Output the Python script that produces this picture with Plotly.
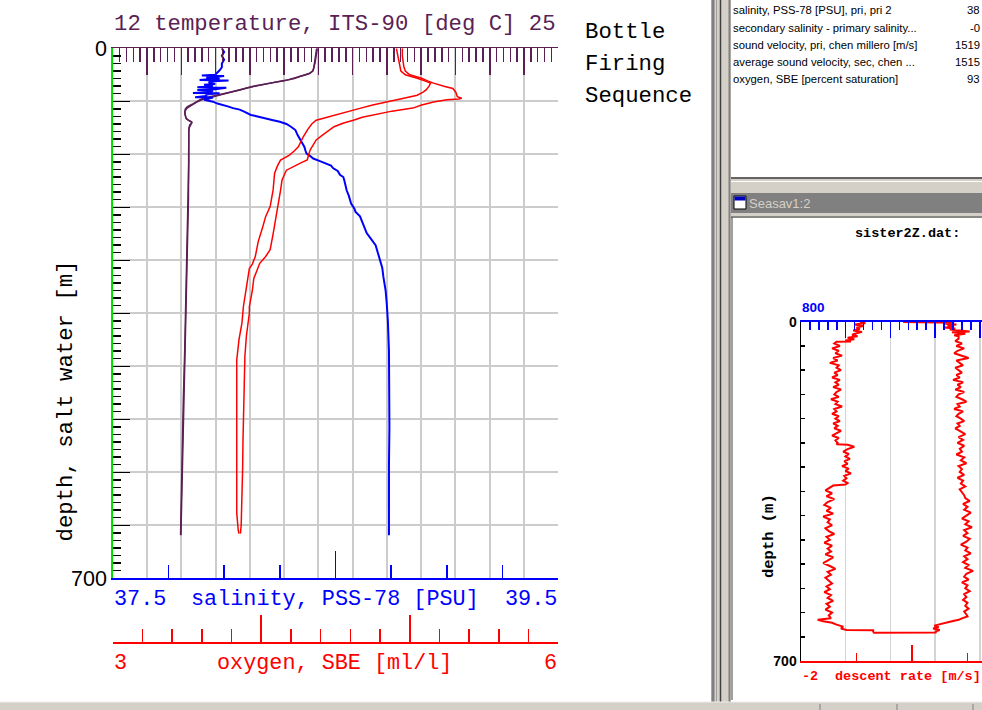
import plotly.graph_objects as go

W, H = 982, 710


def fx(p):
    return p / W


def fy(p):
    return 1 - p / H


PURPLE = "#5b1f55"
BLUE = "#0000ff"
RED = "#ff0000"
GREEN = "#00e000"
GRID = "#cccccc"
MONO = "Liberation Mono"
SANS = "Liberation Sans"

# ---------------- main profile data (depth in m) ----------------
depth_temp_pri = [0, 8, 15, 25, 29, 33, 36, 38, 40, 42, 45, 48.6, 52, 55, 57, 59.5, 62, 64, 66, 68, 70, 73, 77, 80,
                  84, 88, 92.5, 95, 97, 99, 101, 104, 108, 150, 200, 300, 400, 465, 550, 600, 643]
temp_pri = [17.95, 17.93, 17.9, 17.87, 17.85, 17.76, 17.55, 17.4, 17.25, 17.08, 16.7, 16.3, 15.95, 15.71, 15.5, 15.23,
            15.0, 14.84, 14.65, 14.55, 14.45, 14.35, 14.18, 14.12, 14.1, 14.11, 14.14, 14.2, 14.3, 14.3, 14.25, 14.23,
            14.22, 14.22, 14.2, 14.16, 14.1, 14.06, 14.02, 14.0, 13.98]

depth_temp_sec = [0, 10, 20, 30, 34, 37, 40, 43, 46, 50, 53, 56, 59, 62, 65, 68, 71, 75, 79, 83, 88, 93, 96, 98, 101,
                  105, 110, 200, 300, 400, 500, 600, 643]
temp_sec = [17.97, 17.94, 17.9, 17.84, 17.7, 17.48, 17.3, 17.0, 16.6, 16.1, 15.85, 15.6, 15.3, 15.07, 14.8, 14.6,
            14.45, 14.3, 14.17, 14.11, 14.11, 14.15, 14.24, 14.31, 14.28, 14.23, 14.22, 14.21, 14.16, 14.11, 14.04,
            14.0, 13.99]

depth_sal = [0, 5, 10, 15, 20, 25, 29, 32, 35, 36, 36.5, 37.5, 39, 40, 41, 42, 42.5, 43.5, 45, 47, 48, 50, 51.5, 52,
             54, 55, 56, 58, 59, 59.5, 61, 63, 64.7, 65, 68, 70.5, 73, 75, 77, 79, 81, 83.7, 86, 88, 90, 92.5, 95, 97,
             100, 103.6, 108, 114.6, 120, 125.5, 130, 135, 139, 142, 145.6, 149, 152, 155, 158.5, 162, 167, 170, 175,
             183, 187.5, 195, 205, 212, 216, 222, 229, 236, 244, 252, 260, 270, 280, 290, 302, 320, 337, 360, 400,
             450, 500, 550, 600, 643]
sal = [37.99, 38.0, 37.99, 38.0, 37.99, 37.99, 37.98, 37.97, 37.96, 37.90, 38.0, 37.97, 37.92, 37.98, 37.94, 37.89,
       38.02, 37.95, 37.93, 37.96, 37.91, 37.95, 37.88, 38.01, 37.96, 37.88, 37.95, 37.93, 37.86, 37.98, 37.92, 37.92,
       37.87, 37.95, 37.91, 37.95, 37.97, 38.0, 38.02, 38.04, 38.07, 38.09, 38.11, 38.12, 38.15, 38.18, 38.22, 38.25,
       38.28, 38.30, 38.32, 38.33, 38.34, 38.35, 38.36, 38.365, 38.37, 38.385, 38.40, 38.43, 38.46, 38.48, 38.49,
       38.51, 38.52, 38.535, 38.54, 38.545, 38.55, 38.56, 38.57, 38.585, 38.59, 38.61, 38.62, 38.63, 38.64, 38.66,
       38.68, 38.69, 38.70, 38.71, 38.715, 38.725, 38.73, 38.735, 38.74, 38.742, 38.742, 38.74, 38.74, 38.74]

depth_oxy_a = [0, 10, 24, 30, 35, 37, 39.6, 43, 46, 50, 53, 58, 64, 66, 67, 68, 71, 75, 79, 83, 88, 91, 95, 99, 103.6,
               110, 115, 121, 127, 134, 140, 147.6, 151, 154, 158, 161, 165, 174, 187.5, 200, 222, 245, 266, 275, 284,
               295, 304, 320, 341, 350, 380, 407, 440, 482, 520, 553, 590, 614, 630, 641]
oxy_a = [4.95, 4.95, 4.96, 4.97, 5.0, 5.04, 5.08, 5.12, 5.16, 5.23, 5.29, 5.31, 5.32, 5.35, 5.33, 5.25, 5.16, 5.08,
         5.02, 4.88, 4.75, 4.68, 4.62, 4.55, 4.49, 4.44, 4.41, 4.37, 4.35, 4.33, 4.32, 4.31, 4.27, 4.24, 4.20, 4.17,
         4.16, 4.14, 4.13, 4.12, 4.10, 4.08, 4.06, 4.03, 3.99, 3.97, 3.95, 3.94, 3.92, 3.92, 3.90, 3.89, 3.885, 3.88,
         3.877, 3.875, 3.872, 3.87, 3.865, 3.86]

depth_oxy_b = [0, 10, 24, 30, 35, 37, 39.6, 43, 46, 50, 55, 58, 62, 66, 70.5, 75, 79, 83.7, 88, 91, 95, 100, 108, 118,
               130, 136, 141, 147.6, 155, 165, 187, 209, 222, 236, 255, 275, 285, 291, 315, 341, 363, 385, 412, 460,
               526, 570, 614, 636, 641]
oxy_b = [4.91, 4.92, 4.93, 4.94, 4.97, 5.01, 5.05, 5.10, 5.14, 5.13, 5.11, 5.09, 5.05, 4.96, 4.85, 4.75, 4.67, 4.58,
         4.50, 4.43, 4.37, 4.34, 4.31, 4.28, 4.25, 4.22, 4.19, 4.13, 4.11, 4.09, 4.08, 4.06, 4.03, 4.01, 3.98, 3.96,
         3.94, 3.92, 3.90, 3.88, 3.87, 3.85, 3.835, 3.835, 3.84, 3.837, 3.835, 3.845, 3.85]

# ---------------- small window: descent rate ----------------
sm_depth_a = [0, 3, 6, 9, 12, 15, 18, 21, 24, 27, 30, 33, 36, 39, 41,
              41.5,
              45, 50, 55, 60, 65, 70, 75, 80, 85, 90, 95, 100, 105, 110, 115, 120, 125, 130, 135, 140, 145,
              150, 155, 160, 165, 170, 175, 180, 185, 190, 195, 200, 205, 210, 215, 220, 225, 230, 235, 240, 245, 250,
              253, 254,
              258, 263, 268, 273, 278, 283, 288, 293, 298, 303, 308, 313, 318, 323, 328, 333,
              336, 338,
              342, 348, 354, 360, 366, 372, 378, 384, 390, 396, 402, 408, 414, 420, 426, 432, 438, 444, 450, 456,
              462, 468, 474, 480, 486, 492, 498, 504, 510, 516, 522, 528, 534, 540, 546, 552, 558, 564, 570, 576,
              582, 588, 594, 600, 606, 612,
              615, 618, 621, 625, 629, 633, 636, 636.5, 641]
sm_rate_a = [-1.47, -1.42, -1.52, -1.44, -1.50, -1.47, -1.53, -1.45, -1.50, -1.54, -1.49, -1.58, -1.52, -1.60, -1.55,
             -1.68,
             -1.70, -1.65, -1.72, -1.66, -1.69, -1.63, -1.71,
             -1.67, -1.74, -1.66, -1.68, -1.64, -1.70, -1.67,
             -1.72, -1.65, -1.69, -1.66, -1.71, -1.64, -1.68,
             -1.70, -1.66, -1.73, -1.67, -1.69, -1.63, -1.70,
             -1.68, -1.72, -1.66, -1.69, -1.65, -1.71, -1.67,
             -1.70, -1.64, -1.68, -1.72, -1.66, -1.69, -1.67,
             -1.68, -1.58,
             -1.52, -1.58, -1.62, -1.57, -1.60, -1.56, -1.61, -1.58, -1.63, -1.57, -1.60, -1.55, -1.61, -1.59, -1.62,
             -1.58,
             -1.60, -1.71,
             -1.74, -1.78, -1.72, -1.77, -1.70, -1.76, -1.79,
             -1.73, -1.77, -1.71, -1.80, -1.74, -1.76, -1.72,
             -1.78, -1.75, -1.70, -1.77, -1.74, -1.79, -1.72,
             -1.76, -1.73, -1.78, -1.71, -1.75, -1.80, -1.74,
             -1.69, -1.76, -1.73, -1.78, -1.75, -1.72, -1.77,
             -1.74, -1.79, -1.73, -1.76,
             -1.71, -1.77, -1.74, -1.78, -1.72, -1.75, -1.73,
             -1.85, -1.80, -1.72, -1.68, -1.62, -1.64, -1.59, -1.35, -1.35]

sm_depth_b = [0.5, 0.5,
              2, 4, 6, 8, 10, 12, 14, 16, 18,
              20, 22, 25, 28, 30,
              35, 40, 45, 50, 55, 60, 65, 70, 75, 80, 85, 90, 95, 100, 105, 110, 115, 120, 125, 130, 135, 140, 145,
              150, 155, 160, 165, 170, 175, 180, 185, 190, 195, 200, 205, 210, 215, 220,
              226, 232, 238, 244, 250, 256, 262, 268, 274, 280, 286, 292, 298, 304, 310, 316, 322, 328, 334, 340, 346,
              352, 358,
              364, 370, 376, 382, 388, 394, 400, 406, 412, 418, 424, 430, 436, 442, 448, 454, 460, 466, 472, 478,
              484, 490, 496, 502, 508, 514, 520, 526, 532, 538, 544, 550, 556, 562, 568, 574, 580, 586, 592, 598, 604,
              608, 612, 615, 618, 621, 624, 627, 630, 633, 636, 639, 641, 641.5]
sm_rate_b = [-1.08, -0.65,
             -0.62, -0.70, -0.60, -0.68, -0.63, -0.71, -0.61, -0.66, -0.59,
             -0.48, -0.64, -0.52, -0.62, -0.58,
             -0.58, -0.61, -0.55, -0.60, -0.53, -0.59, -0.62,
             -0.56, -0.49, -0.60, -0.57, -0.54, -0.61, -0.58,
             -0.55, -0.60, -0.57, -0.63, -0.54, -0.59, -0.56,
             -0.61, -0.53, -0.58, -0.60, -0.55, -0.51, -0.59,
             -0.57, -0.62, -0.54, -0.58, -0.60, -0.56, -0.53,
             -0.59, -0.57, -0.61,
             -0.56, -0.52, -0.58, -0.54, -0.59, -0.53, -0.57,
             -0.55, -0.60, -0.53, -0.56, -0.51, -0.58, -0.55,
             -0.57, -0.53, -0.59, -0.54, -0.56, -0.52, -0.57,
             -0.55, -0.53,
             -0.52, -0.48, -0.54, -0.50, -0.53, -0.47, -0.51,
             -0.55, -0.49, -0.52, -0.46, -0.53, -0.50, -0.54,
             -0.48, -0.51, -0.56, -0.50, -0.52, -0.47, -0.53,
             -0.50, -0.54, -0.49, -0.52, -0.45, -0.51, -0.53,
             -0.49, -0.55, -0.50, -0.52, -0.48, -0.53, -0.51,
             -0.54, -0.50, -0.52, -0.49, -0.53, -0.51,
             -0.50, -0.55, -0.58, -0.64, -0.70, -0.74, -0.80, -0.76, -0.81, -0.75, -0.79, -0.78, -1.35]

# ---------------- side panel list ----------------
panel_labels = ["salinity, PSS-78 [PSU], pri, pri 2", "secondary salinity - primary salinity...",
                "sound velocity, pri, chen millero [m/s]", "average sound velocity, sec, chen ...",
                "oxygen, SBE [percent saturation]"]
panel_values = ["38", "-0", "1519", "1515", "93"]
panel_rows_y = [10, 28, 45, 62, 79]

fig = go.Figure()
fig.add_trace(go.Scatter(x=temp_sec, y=depth_temp_sec, xaxis="x", yaxis="y", mode="lines",
                         line=dict(color=PURPLE, width=1.5)))
fig.add_trace(go.Scatter(x=temp_pri, y=depth_temp_pri, xaxis="x", yaxis="y", mode="lines",
                         line=dict(color=PURPLE, width=1.5)))
fig.add_trace(go.Scatter(x=oxy_a, y=depth_oxy_a, xaxis="x3", yaxis="y", mode="lines",
                         line=dict(color=RED, width=1.5)))
fig.add_trace(go.Scatter(x=oxy_b, y=depth_oxy_b, xaxis="x3", yaxis="y", mode="lines",
                         line=dict(color=RED, width=1.5)))
fig.add_trace(go.Scatter(x=sal, y=depth_sal, xaxis="x2", yaxis="y", mode="lines",
                         line=dict(color=BLUE, width=2)))
fig.add_trace(go.Scatter(x=sm_rate_a, y=sm_depth_a, xaxis="x5", yaxis="y3", mode="lines",
                         line=dict(color=RED, width=2)))
fig.add_trace(go.Scatter(x=sm_rate_b, y=sm_depth_b, xaxis="x5", yaxis="y3", mode="lines",
                         line=dict(color=RED, width=2)))

main_x = [fx(112.7), fx(558.3)]
main_y = [fy(578.3), fy(48.3)]
small_x = [fx(801), 1.0]
small_y = [fy(661), fy(321.7)]

common = dict(zeroline=False, fixedrange=True, showticklabels=False, automargin=False)

layout = dict(
    width=W, height=H, autosize=False, margin=dict(l=0, r=0, t=0, b=0, pad=0),
    paper_bgcolor="white", plot_bgcolor="white", showlegend=False,
    font=dict(family=MONO, size=14, color="black"),
    xaxis=dict(domain=main_x, range=[12, 25], side="top", anchor="y", showline=True, linecolor=PURPLE,
               linewidth=1.5, ticks="inside", tick0=12, dtick=1, ticklen=27, tickwidth=1.5, tickcolor=PURPLE,
               showgrid=True, gridcolor=GRID, gridwidth=2,
               minor=dict(ticks="inside", tickmode="linear", tick0=12, dtick=0.2, ticklen=14, tickwidth=1.5,
                          tickcolor=PURPLE, showgrid=False), **common),
    xaxis2=dict(overlaying="x", range=[37.5, 39.5], side="bottom", anchor="y", showline=True, linecolor=BLUE,
                linewidth=1.5, ticks="inside", tick0=37.5, dtick=1, ticklen=27, tickwidth=1.5, tickcolor=BLUE,
                showgrid=False,
                minor=dict(ticks="inside", tickmode="linear", tick0=37.5, dtick=0.25, ticklen=13, tickwidth=1.5,
                           tickcolor=BLUE, showgrid=False), **common),
    xaxis3=dict(overlaying="x", range=[3, 6], side="bottom", anchor="free", position=fy(642.3), showline=True,
                linecolor=RED, linewidth=1.5, ticks="inside", tick0=3, dtick=1, ticklen=27, tickwidth=1.5,
                tickcolor=RED, showgrid=False,
                minor=dict(ticks="inside", tickmode="linear", tick0=3, dtick=0.2, ticklen=13, tickwidth=1.5,
                           tickcolor=RED, showgrid=False), **common),
    yaxis=dict(domain=main_y, range=[700, 0], side="left", anchor="x", showline=True, linecolor=GREEN,
               linewidth=1.5, ticks="inside", tickmode="array", tickvals=[0, 70, 140, 210, 280, 350, 420, 490, 560,
                                                                          630, 700],
               ticktext=["0", "", "", "", "", "", "", "", "", "", "700"], ticklen=17, tickwidth=1.5,
               tickcolor="black", showticklabels=True, tickfont=dict(family=SANS, size=21.5, color="black"),
               showgrid=True, gridcolor=GRID, gridwidth=2, zeroline=False, fixedrange=True, automargin=False,
               minor=dict(ticks="inside", tickmode="linear", tick0=0, dtick=10, ticklen=8, tickwidth=1.5,
                          tickcolor="black", showgrid=False)),
    yaxis2=dict(overlaying="y", range=[700, 0], side="right", anchor="x", showline=True, linecolor="black",
                linewidth=1, ticks="inside", tick0=0, dtick=70, ticklen=17, tickwidth=1.5, tickcolor="black",
                showgrid=False,
                minor=dict(ticks="inside", tickmode="linear", tick0=0, dtick=10, ticklen=7, tickwidth=1.5,
                           tickcolor="black", showgrid=False), **common),
    xaxis4=dict(domain=small_x, range=[800, 1204.9], side="top", anchor="y3", showline=True, linecolor=BLUE,
                linewidth=1.5, ticks="inside", tick0=800, dtick=100, ticklen=16, tickwidth=1.5, tickcolor=BLUE,
                showgrid=True, gridcolor="#d4d4d4", gridwidth=1.5,
                minor=dict(ticks="inside", tickmode="linear", tick0=800, dtick=20, ticklen=8, tickwidth=1.5,
                           tickcolor=BLUE, showgrid=False), **common),
    xaxis5=dict(overlaying="x4", range=[-2, -2 + 181 / 111], side="bottom", anchor="y3", showline=True,
                linecolor=RED, linewidth=1.5, ticks="inside", tick0=-2, dtick=1, ticklen=16, tickwidth=1.5,
                tickcolor=RED, showgrid=False,
                minor=dict(ticks="inside", tickmode="linear", tick0=-2, dtick=0.5, ticklen=8, tickwidth=1.5,
                           tickcolor=RED, showgrid=False), **common),
    yaxis3=dict(domain=small_y, range=[700, 0], side="left", anchor="x4", showline=True, linecolor="black",
                linewidth=1.5, ticks="inside", tickmode="array",
                tickvals=[0, 50, 100, 150, 200, 250, 300, 350, 400, 450, 500, 550, 600, 650, 700],
                ticktext=["0", "", "", "", "", "", "", "", "", "", "", "", "", "", "700"],
                ticklen=4, tickwidth=1.5, tickcolor="black", showticklabels=True,
                tickfont=dict(family=SANS, size=14, color="black", weight="bold"),
                showgrid=False, zeroline=False, fixedrange=True, automargin=False),
    yaxis4=dict(overlaying="y3", range=[700, 0], anchor="x4", side="left", showline=False, ticks="",
                tickmode="array", tickvals=[350], showgrid=True, gridcolor="#d4d4d4", gridwidth=1.5, **common),
)
fig.update_layout(**layout)

# ---------------- annotations ----------------
anns = []


def ann(text, x, y, size, color="black", family=MONO, xanchor="center", yanchor="middle", xref="paper",
        angle=0, weight="normal"):
    anns.append(dict(text=text, x=x, y=y, xref=xref, yref="paper", showarrow=False, xanchor=xanchor,
                     yanchor=yanchor, textangle=angle, borderpad=0,
                     font=dict(family=family, size=size, color=color, weight=weight)))


ann("12 temperature, ITS-90 [deg C] 25", fx(334.5), fy(24), 22.3, PURPLE)
ann("37.5", 37.5, fy(599), 21.8, BLUE, xanchor="left", xref="x2")
ann("39.5", 39.5, fy(599), 21.8, BLUE, xanchor="right", xref="x2")
ann("salinity, PSS-78 [PSU]", fx(335), fy(599), 21.8, BLUE)
ann("3", 3, fy(663), 21.8, RED, xanchor="left", xref="x3")
ann("6", 6, fy(663), 21.8, RED, xanchor="right", xref="x3")
ann("oxygen, SBE [ml/l]", fx(334), fy(663), 21.8, RED)
ann("depth, salt water [m]", fx(65), fy(401.5), 22.3, "black", angle=-90)
ann("Bottle", fx(584), fy(32), 22.3, "black", xanchor="left")
ann("Firing", fx(584), fy(64), 22.3, "black", xanchor="left")
ann("Sequence", fx(584), fy(96), 22.3, "black", xanchor="left")

for lab, val, yy in zip(panel_labels, panel_values, panel_rows_y):
    ann(lab, fx(732), fy(yy), 11.3, "black", family=SANS, xanchor="left")
    ann(val, fx(981), fy(yy), 11.3, "black", family=SANS, xanchor="right")

ann("Seasav1:2", fx(748), fy(203), 13, "#d4d0c8", family=SANS, xanchor="left")
ann("sister2Z.dat:", fx(907), fy(233), 13.5, "black", weight="bold")
ann("800", 800, fy(307), 13.5, BLUE, family=SANS, xanchor="left", xref="x4", weight="bold")
ann("depth (m)", fx(769), fy(536), 15.5, "black", angle=-90, weight="bold")
ann("-2", -2, fy(676), 13.5, RED, xanchor="left", xref="x5", weight="bold")
ann("descent rate [m/s]", fx(834), fy(676), 13.5, RED, xanchor="left", weight="bold")

fig.update_layout(annotations=anns)

# ---------------- window chrome ----------------
shapes = []


def rect(x0, y0, x1, y1, fill, line=None, lw=0):
    shapes.append(dict(type="rect", xref="paper", yref="paper", x0=fx(x0), x1=fx(x1), y0=fy(y1), y1=fy(y0),
                       fillcolor=fill, line=dict(color=line or fill, width=lw), layer="below"))


def seg(x0, y0, x1, y1, color, lw=1):
    shapes.append(dict(type="line", xref="paper", yref="paper", x0=fx(x0), x1=fx(x1), y0=fy(y0), y1=fy(y1),
                       line=dict(color=color, width=lw), layer="below"))


# vertical separator
rect(711, 0, 731, 702, "#d4d0c8")
seg(713, 0, 713, 702, "#808080", 3)
seg(716.5, 0, 716.5, 702, "#a0a0a0", 1)
seg(720.5, 0, 720.5, 702, "#404040", 1.5)
seg(729.5, 0, 729.5, 702, "#808080", 2)
# bottom border of top panel
rect(731, 177, 982, 193, "#d4d0c8")
seg(731, 178, 982, 178, "#404040", 1.5)
seg(731, 181.5, 982, 181.5, "#ffffff", 1)
# title bar
rect(731, 193, 982, 213, "#808080")
rect(734, 196, 746, 209, "#ffffff", "#000000", 1)
rect(734.5, 196.5, 745.5, 200.5, "#0000c0")
# frame under title bar
rect(731, 213, 982, 218, "#d4d0c8")
seg(731, 217, 982, 217, "#404040", 1)
seg(732, 217, 732, 700, "#404040", 1)
# bottom status strip
rect(0, 702, 982, 710, "#d4d0c8")
seg(0, 702, 982, 702, "#ececec", 1)
for xx in (820, 897, 973):
    seg(xx, 704, xx, 710, "#808080", 1)

fig.update_layout(shapes=shapes)

# the page body margin is removed so the 982x710 figure fills the window exactly
fig.write_html("out.html",
               config={"displayModeBar": False, "staticPlot": True},
               post_script="document.body.style.margin='0';document.body.style.overflow='hidden';")
